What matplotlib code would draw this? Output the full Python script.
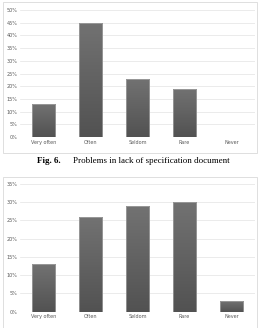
import numpy as np
import matplotlib.pyplot as plt
from matplotlib.patches import Rectangle
from matplotlib.colors import LinearSegmentedColormap

# 数据
categories = ['Very often', 'Often', 'Seldom', 'Rare', 'Never']
top_values = [0.13, 0.45, 0.23, 0.19, 0.0]
bottom_values = [0.13, 0.26, 0.29, 0.30, 0.03]
top_ticks = [i * 0.05 for i in range(11)]
bottom_ticks = [i * 0.05 for i in range(8)]

W, H = 265, 328
fig = plt.figure(figsize=(W / 100, H / 100), dpi=100)
fig.patch.set_facecolor('white')

# 图表外框
for (x0, y0, x1, y1) in [(3, 2, 257, 153), (3, 177, 257, 330)]:
    fig.patches.append(Rectangle((x0 / W, 1 - y1 / H), (x1 - x0) / W, (y1 - y0) / H,
                                 transform=fig.transFigure, fill=False,
                                 edgecolor='#d9d9d9', linewidth=0.6))

grad = LinearSegmentedColormap.from_list('g', ['#525252', '#727272'])


def draw_bars(ax, values, ticks):
    bars = ax.bar(range(len(categories)), values, width=0.5, color='none',
                  edgecolor='#a8a8a8', linewidth=0.5, zorder=4)
    # 渐变填充
    g = np.linspace(0, 1, 64).reshape(-1, 1)
    for b in bars:
        if b.get_height() <= 0:
            continue
        x0, w, h = b.get_x(), b.get_width(), b.get_height()
        im = ax.imshow(g, cmap=grad, origin='lower', aspect='auto',
                       extent=[x0, x0 + w, 0, h], zorder=3)
        im.set_clip_path(b)
    ax.set_xlim(-0.5, len(categories) - 0.5)
    ax.set_ylim(0, ticks[-1])
    ax.set_yticks(ticks)
    ax.set_yticklabels([f'{round(t * 100)}%' for t in ticks])
    ax.set_xticks(range(len(categories)))
    ax.set_xticklabels(categories)
    ax.grid(axis='y', color='#e3e3e3', linewidth=0.5, zorder=0)
    ax.set_axisbelow(True)
    for s in ax.spines.values():
        s.set_visible(False)
    ax.tick_params(length=0, labelsize=3.5, colors='#595959', pad=2)


ax1 = fig.add_axes([20 / W, 1 - 137 / H, 235 / W, 127 / H])
draw_bars(ax1, top_values, top_ticks)

ax2 = fig.add_axes([20 / W, 1 - 311.7 / H, 235 / W, 127.7 / H])
draw_bars(ax2, bottom_values, bottom_ticks)

# 图注
fig.text(37 / W, 1 - 161 / H, 'Fig. 6.', family='Liberation Serif', weight='bold',
         fontsize=6.5, va='center', ha='left')
fig.text(73 / W, 1 - 161 / H, 'Problems in lack of specification document',
         family='Liberation Serif', fontsize=6.5, va='center', ha='left')

fig.savefig('out.png', dpi=100)
